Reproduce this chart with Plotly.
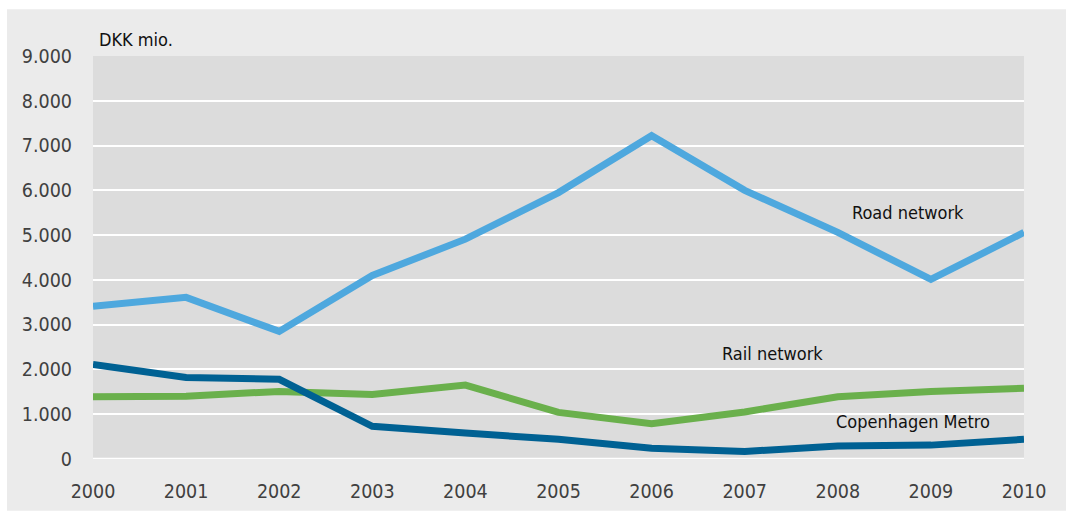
import plotly.graph_objects as go

years = [2000, 2001, 2002, 2003, 2004, 2005, 2006, 2007, 2008, 2009, 2010]
road = [3410, 3610, 2850, 4100, 4910, 5950, 7220, 6000, 5060, 4010, 5060]
rail = [1390, 1400, 1510, 1440, 1650, 1040, 790, 1050, 1390, 1510, 1580]
metro = [2110, 1820, 1780, 730, 580, 440, 240, 170, 290, 310, 440]

y_ticks = [0, 1000, 2000, 3000, 4000, 5000, 6000, 7000, 8000, 9000]

FONT = "DejaVu Sans Condensed, Liberation Sans Narrow, sans-serif"

fig = go.Figure()
for vals, col, name in [(road, "#4ea8de", "Road network"),
                        (rail, "#6ab04c", "Rail network"),
                        (metro, "#006193", "Copenhagen Metro")]:
    fig.add_trace(go.Scatter(x=years, y=vals, mode="lines", name=name,
                             line=dict(color=col, width=7), showlegend=False,
                             cliponaxis=False, hoverinfo="x+y"))

fig.update_layout(
    width=1068, height=515,
    margin=dict(l=93, r=44, t=56, b=54),
    paper_bgcolor="white",
    plot_bgcolor="rgba(0,0,0,0)",
    separators=",.",
    font=dict(family=FONT, size=19, color="#404040"),
    xaxis=dict(range=[2000, 2010], tickvals=years, showgrid=False, zeroline=False,
               showline=False, ticks="", ticklabelstandoff=18,
               tickfont=dict(size=19.5, color="#404040")),
    yaxis=dict(range=[0, 9000], tickvals=y_ticks, tickformat=",d", showgrid=True,
               gridcolor="white", gridwidth=2, zeroline=False, showline=False,
               ticks="", ticklabelstandoff=20,
               tickfont=dict(size=19.5, color="#404040")),
    shapes=[dict(type="rect", xref="paper", yref="paper",
                 x0=-0.0924, x1=1.0451, y0=-0.1284, y1=1.116,
                 fillcolor="#ebebeb", line=dict(width=0), layer="below"),
            dict(type="rect", xref="x domain", yref="y domain",
                 x0=0, x1=1, y0=0, y1=1,
                 fillcolor="#dcdcdc", line=dict(width=0), layer="below"),
            dict(type="line", xref="x domain", yref="y",
                 x0=0, x1=1, y0=0, y1=0,
                 line=dict(color="white", width=2.5), layer="below")],
    annotations=[
        dict(text="DKK mio.", xref="paper", yref="paper", x=0.004, y=1.04,
             xanchor="left", yanchor="middle", showarrow=False,
             font=dict(size=18, color="#111111")),
        dict(text="Road network", x=2008.13, y=5510, xanchor="left", yanchor="middle",
             showarrow=False, font=dict(size=18, color="#111111")),
        dict(text="Rail network", x=2006.73, y=2355, xanchor="left", yanchor="middle",
             showarrow=False, font=dict(size=18, color="#111111")),
        dict(text="Copenhagen Metro", x=2007.96, y=844, xanchor="left", yanchor="middle",
             showarrow=False, font=dict(size=18, color="#111111")),
    ],
)

fig.write_html("out.html", config={"displayModeBar": False},
               post_script="document.body.style.margin='0';")
